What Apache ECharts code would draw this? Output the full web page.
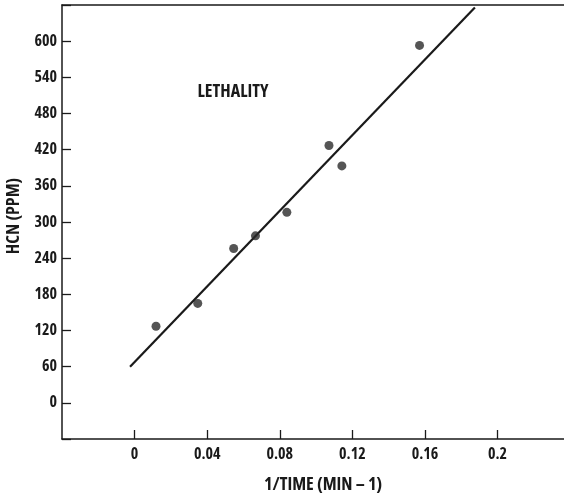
<!DOCTYPE html>
<html><head><meta charset="utf-8">
<script src="https://cdn.jsdelivr.net/npm/echarts@6/dist/echarts.min.js"></script>
<style>html,body{margin:0;padding:0;background:#fff}#c{width:564px;height:499px}</style>
</head><body><div id="c"></div>
<script>
// Observed points: 1/TIME (min^-1) vs HCN (ppm)
const xValues = [0.0118, 0.0348, 0.0546, 0.0666, 0.0839, 0.1071, 0.1142, 0.157];
const yValues = [127, 165, 256, 277, 316, 427, 393, 593];
// Fitted line end points
const fitX = [-0.0025, 0.1875];
const fitY = [60, 656];
const xTickLabels = ['0', '0.04', '0.08', '0.12', '0.16', '0.2'];
const yTickLabels = ['0', '60', '120', '180', '240', '300', '360', '420', '480', '540', '600'];
const title = 'LETHALITY';
const xName = '1/TIME (MIN \u2013 1)';
const yName = 'HCN (PPM)';

const fam = '"Open Sans", Roboto, sans-serif';
const cfont = size => 'bold condensed ' + size + 'px ' + fam;
const ink = '#1a1a1a';
const chart = echarts.init(document.getElementById('c'), null, {renderer: 'canvas'});
const fmtX = v => { const s = xTickLabels.find(t => Math.abs(parseFloat(t) - v) < 1e-9); return s === undefined ? '' : s; };
const fmtY = v => { const s = yTickLabels.find(t => Math.abs(parseFloat(t) - v) < 1e-9); return s === undefined ? '' : s; };
const xTickValues = xTickLabels.map(parseFloat);
const xMin = -0.04, xMax = 0.2366; // visible extent of the (cropped) x range
chart.setOption({
  animation: false,
  backgroundColor: '#fff',
  grid: {left: 62, top: 5, right: 0, bottom: 60, show: false, containLabel: false, outerBoundsMode: 'none'},
  xAxis: [{
    type: 'value', min: xMin, max: xMax, interval: 0.04,
    axisLine: {show: true, onZero: false, lineStyle: {color: ink, width: 1.5}},
    axisTick: {show: true, inside: true, length: 9, customValues: xTickValues, lineStyle: {color: ink, width: 1.3}},
    axisLabel: {formatter: fmtX, customValues: xTickValues, color: ink, fontFamily: fam, fontWeight: 'bold condensed', fontSize: 16, margin: 7},
    splitLine: {show: false}
  }, {
    type: 'value', position: 'top', min: xMin, max: xMax,
    axisLine: {show: true, onZero: false, lineStyle: {color: ink, width: 1.5}},
    axisTick: {show: false}, axisLabel: {show: false}, splitLine: {show: false}
  }],
  yAxis: {
    type: 'value', min: -60, max: 660, interval: 60,
    axisLine: {show: true, onZero: false, lineStyle: {color: ink, width: 1.5}},
    axisTick: {show: true, inside: true, length: 9, lineStyle: {color: ink, width: 1.3}},
    axisLabel: {formatter: fmtY, color: ink, fontFamily: fam, fontWeight: 'bold condensed', fontSize: 16, margin: 5},
    splitLine: {show: false}
  },
  graphic: [
    {type: 'text', x: 233, y: 92, style: {text: title, font: cfont(18), fill: ink, align: 'center', verticalAlign: 'middle'}},
    {type: 'text', x: 323, y: 485, style: {text: xName, font: cfont(18), fill: ink, align: 'center', verticalAlign: 'middle'}},
    {type: 'text', x: 14, y: 216, rotation: Math.PI / 2, style: {text: yName, font: cfont(18), fill: ink, align: 'center', verticalAlign: 'middle'}}
  ],
  series: [
    {type: 'line', data: fitX.map((x, i) => [x, fitY[i]]), symbol: 'none', lineStyle: {color: ink, width: 2.2}, z: 2},
    {type: 'scatter', data: xValues.map((x, i) => [x, yValues[i]]), symbol: 'circle', symbolSize: 9,
     itemStyle: {color: '#2a2a2a'}, z: 3}
  ]
});
</script></body></html>
